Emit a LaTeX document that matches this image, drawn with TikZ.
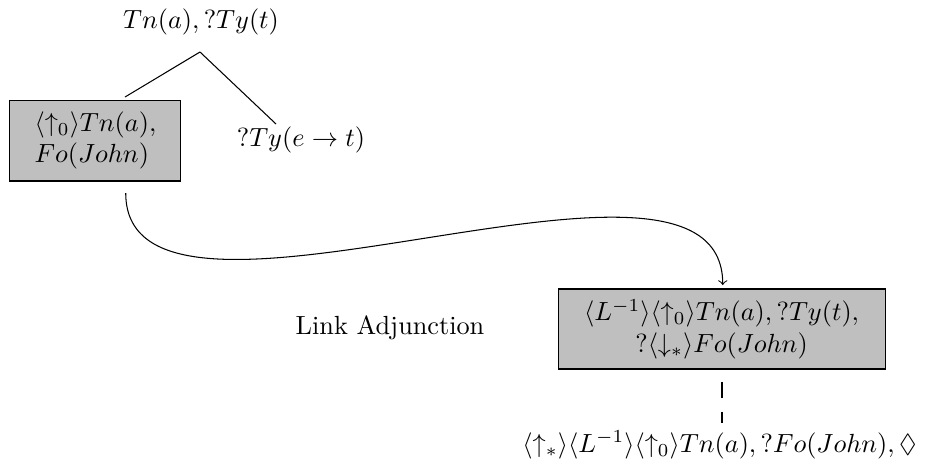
\documentclass[tikz,border=0pt]{standalone}
\usepackage{amssymb}
\usepackage{tikz}
\usetikzlibrary{positioning}

\begin{document}
\begin{tikzpicture}[
        treebox/.style={rectangle, draw=black, fill=lightgray, inner sep=2pt},
        leaf/.style={inner sep=2pt},
        branch/.style={draw=black},
        linkarrow/.style={->, draw=black},
        dashlink/.style={draw=black, dash pattern=on 6pt off 5.3pt}
        ]
        \useasboundingbox (0,0) rectangle (12.396,-6.171);

        % Initial tree (top left)
        \node (root) [leaf] at (2.691,-0.295) {$Tn(a), ?Ty(t)$};
        \coordinate (apex) at (2.677,-0.696);
        \node (subj) [treebox, minimum width=2.289cm, minimum height=1.084cm, align=left] at (1.278,-1.881) {$\langle\uparrow_0\rangle Tn(a),$\\$Fo(John)$};
        \node (pred) [leaf] at (4.029,-1.874) {$?Ty(e\rightarrow t)$};
        \coordinate (subjtip) at (1.673,-1.299);
        \coordinate (predtip) at (3.695,-1.660);

        \draw [branch] (apex) -- (subjtip);
        \draw [branch] (apex) -- (predtip);

        % Linked tree (bottom right)
        \node (linked) [treebox, minimum width=4.378cm, minimum height=1.071cm, align=center] at (9.659,-4.404) {$\langle L^{-1}\rangle\langle\uparrow_0\rangle Tn(a), ?Ty(t),$\\$?\langle\downarrow_*\rangle Fo(John)$};
        \node (rule) [leaf] at (5.221,-4.391) {Link Adjunction};
        \node (unfixed) [leaf] at (9.632,-5.957) {$\langle\uparrow_*\rangle\langle L^{-1}\rangle\langle\uparrow_0\rangle Tn(a), ?Fo(John), \Diamond$};

        % Link arrow and unfixed node
        \coordinate (linkstart) at (1.683,-2.584);
        \coordinate (linkend) at (9.675,-3.815);
        \draw [linkarrow] (linkstart) .. controls +(0,-2.47) and +(0,2.49) .. (linkend);
        \coordinate (dashtop) at (9.665,-5.114);
        \coordinate (dashbot) at (9.665,-5.663);
        \draw [dashlink] (dashtop) -- (dashbot);

    \end{tikzpicture}
\end{document}
